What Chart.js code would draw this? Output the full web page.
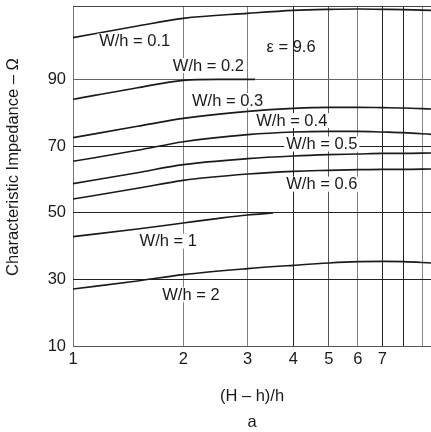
<!DOCTYPE html>
<html>
<head>
<meta charset="utf-8">
<script src="https://cdn.jsdelivr.net/npm/chart.js@4.4.1/dist/chart.umd.min.js"></script>
<style>
  html, body { margin: 0; padding: 0; background: #fff; }
</style>
</head>
<body>
<canvas id="chart" width="431" height="432"></canvas>
<script>
// (H-h)/h sample points
const xs = [1, 1.5, 2, 3, 4, 5, 6, 7, 8, 9.5];
const xsShort02 = [1, 1.5, 2, 2.5, 3.14];
const xsShort1 = [1, 1.5, 2, 2.5, 3, 3.52];

const z01 = [102.5, 106.0, 108.3, 109.8, 110.7, 111.0, 111.1, 111.0, 110.9, 110.7];
const z02 = [84.0, 87.5, 89.7, 90.0, 90.0];
const z03 = [72.5, 75.9, 78.3, 80.4, 81.3, 81.6, 81.6, 81.5, 81.4, 81.1];
const z04 = [65.4, 68.7, 71.3, 73.4, 74.2, 74.4, 74.4, 74.2, 74.0, 73.5];
const z05 = [58.7, 62.0, 64.4, 66.2, 67.0, 67.4, 67.6, 67.8, 67.8, 67.9];
const z06 = [54.1, 57.3, 59.7, 61.6, 62.4, 62.7, 62.9, 63.0, 63.0, 63.1];
const z1 = [42.8, 45.1, 46.9, 48.3, 49.3, 49.9];
const z2 = [27.1, 29.5, 31.4, 33.2, 34.2, 34.9, 35.3, 35.4, 35.3, 34.9];

const xTicks = [1, 2, 3, 4, 5, 6, 7, 8, 9];
const xTickLabels = ['1', '2', '3', '4', '5', '6', '7', '', ''];
const yTicks = [10, 30, 50, 70, 90];

const notes = [
  { text: 'W/h = 0.1', x: 1.474, y: 101.3, box: true },
  { text: 'W/h = 0.2', x: 2.343, y: 94.0, box: true },
  { text: 'W/h = 0.3', x: 2.643, y: 83.5, box: true },
  { text: 'W/h = 0.4', x: 3.958, y: 77.5, box: true },
  { text: 'W/h = 0.5', x: 4.78, y: 70.45, box: true },
  { text: 'W/h = 0.6', x: 4.78, y: 58.4, box: true },
  { text: 'W/h = 1', x: 1.82, y: 41.3, box: true },
  { text: 'W/h = 2', x: 2.099, y: 25.2, box: true },
  { text: 'ε = 9.6', x: 3.94, y: 99.5, box: false }
];

const FONT = '"Liberation Sans", Arial, Helvetica, sans-serif';
const INK = '#1a1a1a';

function pts(xv, yv) {
  return xv.map((x, i) => ({ x: x, y: yv[i] }));
}

function curve(xv, yv) {
  return {
    data: pts(xv, yv),
    borderColor: INK,
    borderWidth: 1.6,
    pointRadius: 0,
    fill: false,
    cubicInterpolationMode: 'monotone'
  };
}

const xGridColor = {
  1: '#777', 2: '#808080', 3: '#808080', 4: '#222', 5: '#555',
  6: '#808080', 7: '#222', 8: '#222', 9: '#888'
};
const yGridColor = { 10: '#555', 30: '#222', 50: '#222', 70: '#222', 90: '#666' };

const extras = {
  id: 'extras',
  beforeDatasetsDraw(chart) {
    const { ctx, chartArea } = chart;
    ctx.save();
    ctx.strokeStyle = '#444';
    ctx.lineWidth = 1;
    ctx.beginPath();
    ctx.moveTo(chartArea.left, Math.round(chartArea.top) + 0.5);
    ctx.lineTo(chartArea.right, Math.round(chartArea.top) + 0.5);
    ctx.stroke();
    ctx.restore();
  },
  afterDatasetsDraw(chart) {
    const { ctx } = chart;
    const xs = chart.scales.x;
    const ys = chart.scales.y;
    ctx.save();
    ctx.font = '16.5px ' + FONT;
    ctx.textAlign = 'center';
    ctx.textBaseline = 'middle';
    notes.forEach(n => {
      const px = xs.getPixelForValue(n.x);
      const py = ys.getPixelForValue(n.y);
      const w = ctx.measureText(n.text).width;
      if (n.box) {
        ctx.fillStyle = '#fff';
        ctx.fillRect(px - w / 2 - 2, py - 8, w + 4, 15);
      }
      ctx.fillStyle = INK;
      ctx.fillText(n.text, px, py);
    });

    // y axis title, sits a little above the plot centre in the reference
    ctx.translate(13.5, 167);
    ctx.rotate(-Math.PI / 2);
    ctx.fillText('Characteristic Impedance – Ω', 0, 0);
    ctx.restore();
  }
};

new Chart(document.getElementById('chart'), {
  type: 'line',
  data: {
    datasets: [
      curve(xs, z01),
      curve(xsShort02, z02),
      curve(xs, z03),
      curve(xs, z04),
      curve(xs, z05),
      curve(xs, z06),
      curve(xsShort1, z1),
      curve(xs, z2)
    ]
  },
  options: {
    responsive: false,
    animation: false,
    layout: { padding: { top: 6, left: 0, right: 0, bottom: 0 } },
    plugins: {
      legend: { display: false },
      tooltip: { enabled: false }
    },
    scales: {
      x: {
        type: 'logarithmic',
        min: 1,
        max: 9.5,
        afterBuildTicks: scale => {
          scale.ticks = xTicks.map(v => ({ value: v }));
        },
        afterFit: scale => { scale.height = 86; },
        ticks: {
          autoSkip: false,
          maxRotation: 0,
          padding: 4,
          color: INK,
          font: { family: FONT, size: 16.5 },
          callback: (v, i) => xTickLabels[i]
        },
        grid: {
          drawTicks: false,
          lineWidth: 1,
          color: ctx => (ctx.tick ? (xGridColor[ctx.tick.value] || '#777') : '#777')
        },
        border: { display: false },
        title: {
          display: true,
          text: ['(H – h)/h', 'a'],
          color: INK,
          font: { family: FONT, size: 16.5, lineHeight: 1.55 },
          padding: { top: 0, bottom: -3 }
        }
      },
      y: {
        type: 'linear',
        min: 10,
        max: 112,
        afterBuildTicks: scale => {
          scale.ticks = yTicks.map(v => ({ value: v }));
        },
        afterFit: scale => {
          scale.width = 73;
          // the top label is far from the edge, no extra room needed
          scale.paddingTop = 0;
          scale.paddingBottom = 0;
        },
        ticks: {
          padding: 7,
          color: INK,
          font: { family: FONT, size: 16.5 },
          callback: v => String(v)
        },
        grid: {
          drawTicks: false,
          lineWidth: 1,
          color: ctx => (ctx.tick ? (yGridColor[ctx.tick.value] || '#333') : '#333')
        },
        border: { display: false }
      }
    }
  },
  plugins: [extras]
});
</script>
</body>
</html>
